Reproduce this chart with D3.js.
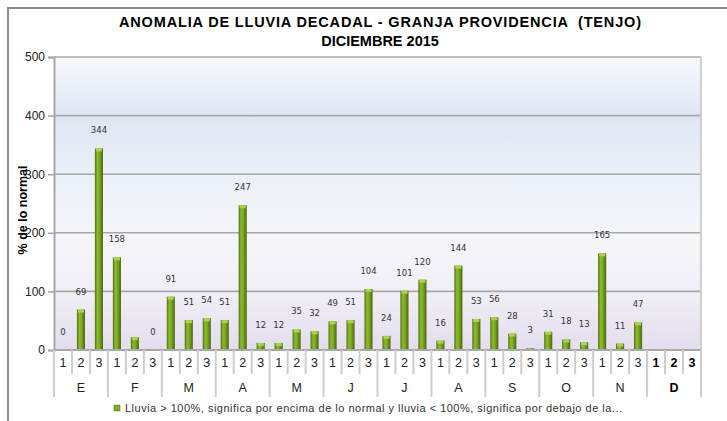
<!DOCTYPE html>
<html><head><meta charset="utf-8">
<script src="https://cdn.jsdelivr.net/npm/d3@7"></script>
<style>html,body{margin:0;padding:0;background:#fff;}svg{display:block;}</style>
</head><body>
<svg id="c" width="727" height="421"></svg>
<script>
const titleLines = ["ANOMALIA DE LLUVIA DECADAL - GRANJA PROVIDENCIA  (TENJO)", "DICIEMBRE 2015"];
const yTitle = "% de lo normal";
const months = ["E","F","M","A","M","J","J","A","S","O","N","D"];
const decades = ["1","2","3"];
const values = [0,69,344, 158,22,0, 91,51,54, 51,247,12, 12,35,32, 49,51,104, 24,101,120, 16,144,53, 56,28,3, 31,18,13, 165,11,47, null,null,null];
const labels = ["0","69","344","158",null,"0","91","51","54","51","247","12","12","35","32","49","51","104","24","101","120","16","144","53","56","28","3","31","18","13","165","11","47",null,null,null];
const yTicks = [0,100,200,300,400,500];
const legendText = "Lluvia > 100%, significa por encima de lo normal y lluvia < 100%, significa por debajo de la...";

const svg = d3.select("#c");
const L = 54, R = 701, T = 57, B = 350;
const keys = [];
months.forEach((m,i)=>decades.forEach(d=>keys.push(i+"-"+d)));
const x = d3.scaleBand().domain(keys).range([L,R]).paddingInner(0.55).paddingOuter(0.275);
const step = (R-L)/keys.length;
const y = d3.scaleLinear().domain([0,500]).range([B,T]);

const defs = svg.append("defs");
const bg = defs.append("linearGradient").attr("id","bg").attr("x1",0).attr("y1",0).attr("x2",0).attr("y2",1);
[[0,"#f7f8fc"],[0.2,"#dfe6f3"],[0.45,"#eef1f8"],[0.62,"#f6f6fa"],[0.8,"#f1eff6"],[1,"#e3dded"]].forEach(s=>bg.append("stop").attr("offset",s[0]).attr("stop-color",s[1]));
const bar = defs.append("linearGradient").attr("id","bar").attr("x1",0).attr("y1",0).attr("x2",1).attr("y2",0);
[[0,"#4f6d14"],[0.3,"#8cbb2c"],[0.55,"#7dab24"],[1,"#4a6610"]].forEach(s=>bar.append("stop").attr("offset",s[0]).attr("stop-color",s[1]));

// outer frame
svg.append("path").attr("d","M8,421 V8 H727").attr("fill","none").attr("stroke","#8c8c8c").attr("stroke-width",2);

// plot background
svg.append("rect").attr("x",L).attr("y",T).attr("width",R-L).attr("height",B-T).attr("fill","url(#bg)");

// gridlines
svg.append("g").selectAll("line").data(yTicks.filter(d=>d>0)).join("line")
  .attr("x1",L).attr("x2",R).attr("y1",d=>y(d)).attr("y2",d=>y(d))
  .attr("stroke","#a8a8a8").attr("stroke-width",1.6);
// right border
svg.append("line").attr("x1",R).attr("x2",R).attr("y1",T).attr("y2",B+47).attr("stroke","#cfcfcf").attr("stroke-width",2);

// y axis
const ya = svg.append("g").attr("transform",`translate(${L},0)`)
  .call(d3.axisLeft(y).tickValues(yTicks).tickSize(6).tickPadding(3));
ya.select(".domain").attr("stroke","#a8a8a8").attr("stroke-width",2);
ya.selectAll(".tick line").attr("stroke","#a8a8a8").attr("stroke-width",1.6);
ya.selectAll("text").attr("font-family","Liberation Sans, Arial").attr("font-size",12).attr("fill","#222");

// bars
const data = keys.map((k,i)=>({k, v:values[i], lab:labels[i]}));
const bars = svg.append("g");
bars.selectAll("rect.b").data(data.filter(d=>d.v!==null && d.v>0)).join("rect").attr("class","b")
  .attr("x",d=>x(d.k)).attr("width",x.bandwidth())
  .attr("y",d=>y(d.v)).attr("height",d=>B-y(d.v)).attr("fill","url(#bar)");
bars.selectAll("rect.cap").data(data.filter(d=>d.v!==null && d.v>=4)).join("rect").attr("class","cap")
  .attr("x",d=>x(d.k)+1).attr("width",x.bandwidth()-2)
  .attr("y",d=>y(d.v)).attr("height",3).attr("fill","#a9d447");

// data labels
svg.append("g").selectAll("text").data(data.filter(d=>d.lab!==null)).join("text")
  .attr("x",d=>x(d.k)+x.bandwidth()/2).attr("y",d=>y(d.v)-15)
  .attr("text-anchor","middle").attr("font-family","DejaVu Sans, sans-serif").attr("font-size",8.5).attr("fill","#333")
  .text(d=>d.lab);

// category axis
const cat = svg.append("g");
cat.append("line").attr("x1",L).attr("x2",R).attr("y1",B).attr("y2",B).attr("stroke","#a8a8a8").attr("stroke-width",2);
const bounds = d3.range(keys.length+1);
cat.selectAll("line.sep").data(bounds).join("line").attr("class","sep")
  .attr("x1",i=>L+i*step).attr("x2",i=>L+i*step)
  .attr("y1",B).attr("y2",i=> i%3===0 ? B+47 : B+24)
  .attr("stroke","#cdcdcd").attr("stroke-width",2);
const lastMonth = months.length-1;
cat.selectAll("text.dec").data(data).join("text").attr("class","dec")
  .attr("x",d=>x(d.k)+x.bandwidth()/2).attr("y",B+17)
  .attr("text-anchor","middle").attr("font-family","Liberation Sans, Arial").attr("font-size",12.5)
  .attr("font-weight",d=>+d.k.split("-")[0]===lastMonth?"bold":"normal")
  .attr("fill",d=>+d.k.split("-")[0]===lastMonth?"#000":"#222")
  .text(d=>d.k.split("-")[1]);
cat.selectAll("text.mon").data(months).join("text").attr("class","mon")
  .attr("x",(m,i)=>L+(i*3+1.5)*step).attr("y",B+42)
  .attr("text-anchor","middle").attr("font-family","Liberation Sans, Arial").attr("font-size",12.5)
  .attr("font-weight",(m,i)=>i===lastMonth?"bold":"normal")
  .attr("fill",(m,i)=>i===lastMonth?"#000":"#222")
  .text(m=>m);

// y title
svg.append("text").attr("transform","translate(27,210) rotate(-90)")
  .attr("text-anchor","middle").attr("font-family","Liberation Sans, Arial").attr("font-weight","bold").attr("font-size",12.5).attr("fill","#000")
  .text(yTitle);

// title
svg.append("g").selectAll("text").data(titleLines).join("text")
  .attr("x",380).attr("y",(d,i)=>27+i*19).attr("text-anchor","middle")
  .attr("xml:space","preserve").style("white-space","pre")
  .attr("font-family","Liberation Sans, Arial").attr("font-weight","bold").attr("font-size",14.5).attr("fill","#000")
  .each(function(d,i){ if(i===0) d3.select(this).attr("textLength",522).attr("lengthAdjust","spacing"); })
  .text(d=>d);

// legend
svg.append("rect").attr("x",114).attr("y",405).attr("width",6).attr("height",6).attr("fill","#7dab24").attr("stroke","#5a7d16").attr("stroke-width",0.5);
svg.append("text").attr("x",125).attr("y",412).attr("font-family","Liberation Sans, Arial").attr("font-size",11).attr("fill","#333")
  .attr("textLength",497).attr("lengthAdjust","spacing").text(legendText);
</script>
</body></html>
